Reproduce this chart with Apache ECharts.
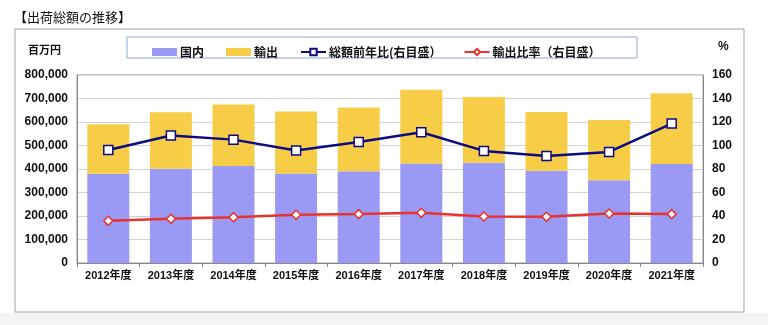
<!DOCTYPE html>
<html>
<head>
<meta charset="utf-8">
<script src="https://cdn.jsdelivr.net/npm/echarts@6/dist/echarts.min.js"></script>
<style>
html,body{margin:0;padding:0;background:#fff;}
#c{width:768px;height:325px;}
</style>
</head>
<body>
<div id="c"></div>
<script>
const categories = ['2012年度','2013年度','2014年度','2015年度','2016年度','2017年度','2018年度','2019年度','2020年度','2021年度'];
const domestic = [380000, 401000, 413000, 381000, 390000, 423000, 427000, 393000, 352000, 421000];
const exportsVal = [210000, 240000, 262000, 264000, 272000, 314000, 279000, 250000, 256000, 301000];
const yoy = [96.2, 108.5, 105.0, 95.7, 103.0, 111.3, 95.4, 91.1, 94.5, 118.7];
const ratio = [35.9, 37.6, 39.0, 41.0, 41.6, 42.7, 39.6, 39.3, 42.1, 41.6];
const seriesNames = ['国内', '輸出', '総額前年比(右目盛）', '輸出比率（右目盛）'];
const titleText = '【出荷総額の推移】';
const leftUnit = '百万円';
const rightUnit = '%';

const FONT = "'Liberation Sans', 'Noto Sans CJK JP', sans-serif";
const chart = echarts.init(document.getElementById('c'), null, {renderer: 'canvas'});
chart.setOption({
  animation: false,
  backgroundColor: '#fff',
  textStyle: {fontFamily: FONT},
  graphic: [
    {type: 'rect', shape: {x: 0, y: 313, width: 768, height: 12}, style: {fill: '#f4f4f4'}, silent: true, z: -10},
    {type: 'rect', shape: {x: 15, y: 29, width: 729, height: 283}, style: {fill: '#fff', stroke: '#a0a0a0', lineWidth: 1}, silent: true, z: -5},
    {type: 'rect', shape: {x: 127, y: 37, width: 510, height: 21}, style: {fill: '#fff', stroke: '#8fa8d8', lineWidth: 1}, silent: true, z: -4},
    {type: 'text', left: 14, top: 11, style: {text: titleText, font: "13px 'Noto Sans CJK JP', sans-serif", fill: '#111'}},
    {type: 'text', left: 28, top: 44, style: {text: leftUnit, font: "bold 11px 'Noto Sans CJK JP', sans-serif", fill: '#111'}},
    {type: 'text', left: 718, top: 41, style: {text: rightUnit, font: "bold 12px " + FONT, fill: '#111'}}
  ],
  legend: {
    left: 147, top: 41,
    itemWidth: 25, itemHeight: 8, itemGap: 22,
    textStyle: {fontFamily: "'Noto Sans CJK JP', sans-serif", fontWeight: 'bold', fontSize: 12, color: '#111', padding: [0,0,0,-2]},
    data: [
      {name: seriesNames[0], icon: 'rect'},
      {name: seriesNames[1], icon: 'rect'},
      {name: seriesNames[2]},
      {name: seriesNames[3]}
    ]
  },
  grid: {left: 77, right: 65, top: 75, bottom: 62, show: true, borderColor: '#999', borderWidth: 1},
  xAxis: {
    type: 'category', data: categories,
    axisLine: {lineStyle: {color: '#888', width: 1}},
    axisTick: {show: true, length: 4, lineStyle: {color: '#888'}},
    axisLabel: {interval: 0, color: '#111', fontWeight: 'bold', fontSize: 11, margin: 7, fontFamily: FONT}
  },
  yAxis: [
    {
      type: 'value', min: 0, max: 800000, interval: 100000,
      axisLine: {show: true, lineStyle: {color: '#888'}},
      axisTick: {show: false},
      splitLine: {lineStyle: {color: '#d3d3d3', width: 1}},
      axisLabel: {color: '#111', fontWeight: 'bold', fontSize: 12, margin: 9, fontFamily: FONT,
        formatter: v => v.toLocaleString('en-US')}
    },
    {
      type: 'value', min: 0, max: 160, interval: 20,
      axisLine: {show: true, lineStyle: {color: '#888'}},
      axisTick: {show: false},
      splitLine: {show: false},
      axisLabel: {color: '#111', fontWeight: 'bold', fontSize: 12, margin: 9, fontFamily: FONT}
    }
  ],
  series: [
    {name: seriesNames[0], type: 'bar', stack: 'total', data: domestic, barWidth: 42,
      itemStyle: {color: '#9a9af5'}},
    {name: seriesNames[1], type: 'bar', stack: 'total', data: exportsVal, barWidth: 42,
      itemStyle: {color: '#f7cd48'}},
    {name: seriesNames[2], type: 'line', yAxisIndex: 1, data: yoy,
      symbol: 'rect', symbolSize: 9,
      lineStyle: {color: '#0c0c80', width: 2.5},
      itemStyle: {color: '#fff', borderColor: '#0c0c80', borderWidth: 1.5}, z: 5},
    {name: seriesNames[3], type: 'line', yAxisIndex: 1, data: ratio,
      symbol: 'diamond', symbolSize: 9,
      lineStyle: {color: '#e8322e', width: 2.5},
      itemStyle: {color: '#fff', borderColor: '#e8322e', borderWidth: 1.5}, z: 5}
  ]
});
</script>
</body>
</html>
